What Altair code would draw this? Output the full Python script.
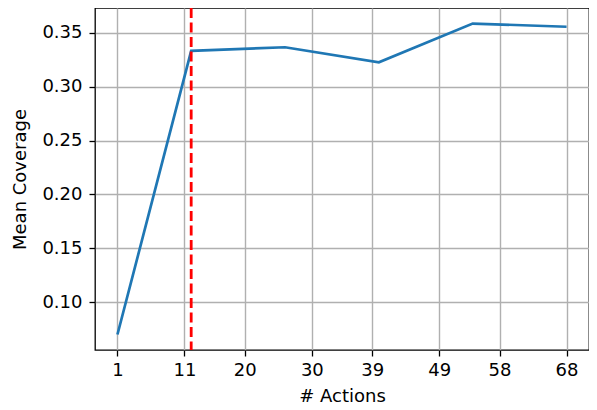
import altair as alt
import pandas as pd

actions = [1, 12, 26, 40, 54, 68]
coverage = [0.0701, 0.3331, 0.3365, 0.3225, 0.3585, 0.3555]
x_ticks = [1, 11, 20, 30, 39, 49, 58, 68]
y_ticks = [0.10, 0.15, 0.20, 0.25, 0.30, 0.35]
vline_x = [12]

df = pd.DataFrame({"actions": actions, "coverage": coverage})
vdf = pd.DataFrame({"x": vline_x})

xscale = alt.Scale(domain=[-2.35, 71.35], nice=False, zero=False)
yscale = alt.Scale(domain=[0.0557, 0.3729], nice=False, zero=False)

line = alt.Chart(df).mark_line(color="#1f77b4", strokeWidth=2.7, clip=True).encode(
    x=alt.X("actions:Q", scale=xscale,
            axis=alt.Axis(values=x_ticks, format="d", title="# Actions",
                          labelPadding=5, titlePadding=8)),
    y=alt.Y("coverage:Q", scale=yscale,
            axis=alt.Axis(values=y_ticks, format=".2f", title="Mean Coverage",
                          labelPadding=7, titlePadding=12)),
)

rule = alt.Chart(vdf).mark_rule(color="#ff0000", strokeWidth=2.8, strokeDash=[10, 4.5]).encode(
    x=alt.X("x:Q", scale=xscale)
)

chart = (
    alt.layer(line, rule)
    .properties(
        width=494,
        height=342,
        autosize="none",
        padding={"left": 87, "top": 0, "right": 0, "bottom": 56},
    )
    .configure_view(stroke="black", strokeWidth=1.3)
    .configure_axis(
        domain=False,
        grid=True,
        gridColor="#b0b0b0",
        gridWidth=1.4,
        tickColor="black",
        tickSize=6,
        tickWidth=1.3,
        labelFont="DejaVu Sans",
        labelFontSize=18,
        labelColor="black",
        titleFont="DejaVu Sans",
        titleFontSize=18,
        titleFontWeight="normal",
        titleColor="black",
    )
)

chart.save("out.html", embed_options={"renderer": "svg", "actions": False})
